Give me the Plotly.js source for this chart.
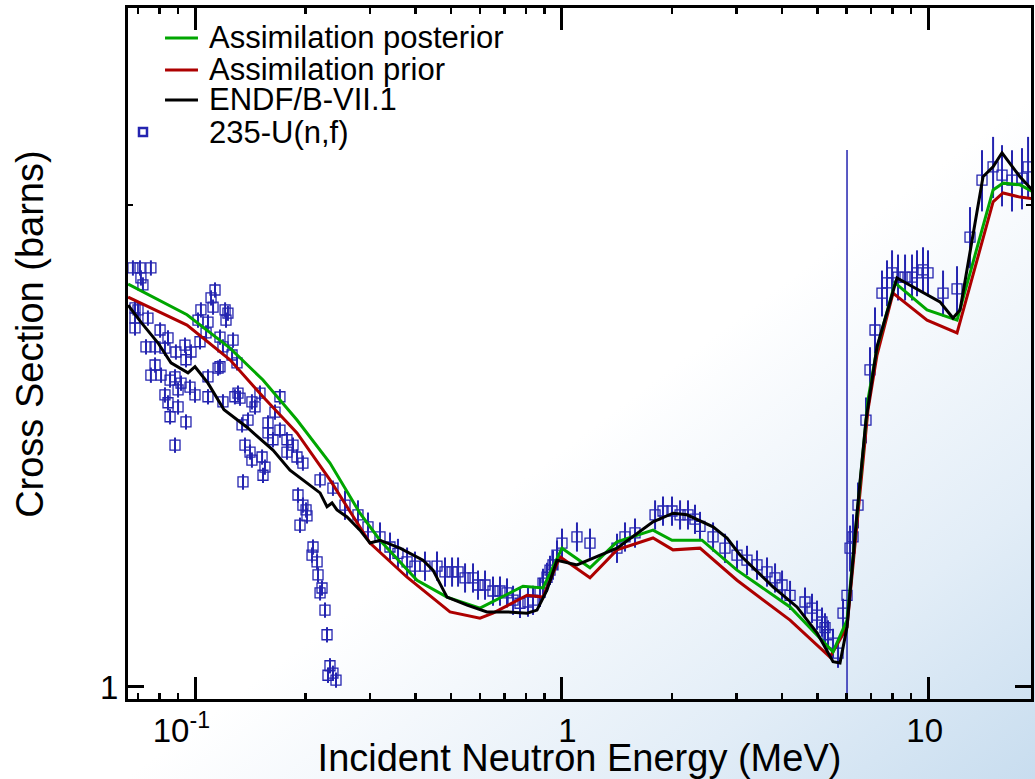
<!DOCTYPE html>
<html>
<head>
<meta charset="utf-8">
<script src="https://cdn.plot.ly/plotly-3.0.1.min.js"></script>
<style>
  html, body { margin: 0; padding: 0; }
  body {
    width: 1035px; height: 779px; overflow: hidden;
    background: linear-gradient(to bottom right, #ffffff 0%, #ffffff 56%, #f4f8fc 66%, #e2edf7 82%, #c8ddef 100%);
  }
  #chart { width: 1035px; height: 779px; }
</style>
</head>
<body>
<div id="chart"></div>
<script>
// ---------- Data (energies in MeV, cross sections in barns) ----------
// Assimilation posterior
const postE = [0.0657,0.0951,0.1246,0.1533,0.1898,0.2335,0.2819,0.3197,0.4034,0.4871,0.5992,0.7851,0.8903,1.003,1.196,1.417,1.777,2.002,2.417,3.012,4.203,5.506,6.012,6.243,6.523,6.860,7.258,8.128,9.94,12.0,15.05,16.02,17.82,19.59];
const postS = [1.785,1.708,1.628,1.555,1.468,1.380,1.284,1.235,1.166,1.138,1.120,1.156,1.153,1.221,1.187,1.232,1.253,1.235,1.235,1.183,1.122,1.052,1.101,1.209,1.347,1.512,1.628,1.788,1.720,1.695,2.044,2.064,2.059,2.035];

// Assimilation prior
const priorE = [0.0657,0.0951,0.1246,0.1533,0.1898,0.2335,0.3003,0.3790,0.4963,0.5992,0.6502,0.8051,0.8903,0.9906,1.196,1.417,1.777,2.015,2.387,3.012,4.203,5.403,6.012,6.243,6.523,6.860,7.258,8.027,9.94,12.0,15.05,16.02,17.82,19.59];
const priorS = [1.752,1.683,1.601,1.518,1.441,1.347,1.230,1.171,1.114,1.104,1.112,1.141,1.138,1.206,1.170,1.218,1.239,1.218,1.221,1.166,1.101,1.044,1.090,1.192,1.328,1.490,1.612,1.762,1.695,1.664,2.009,2.035,2.023,2.017];

// ENDF/B-VII.1
const endfE = [0.0657,0.0712,0.0793,0.0860,0.0957,0.100,0.1085,0.1200,0.1386,0.1632,0.1816,0.2021,0.2194,0.2292,0.2365,0.2440,0.2599,0.2819,0.3003,0.3197,0.3625,0.4189,0.4460,0.4871,0.5525,0.6261,0.7101,0.8051,0.8573,0.9130,0.9721,1.102,1.417,1.777,2.015,2.200,2.591,2.829,3.069,3.776,4.391,4.979,5.506,5.753,6.012,6.401,6.773,7.258,8.230,10.78,11.70,12.23,14.13,15.05,15.92,17.82,19.59];
const endfS = [1.732,1.690,1.640,1.594,1.571,1.585,1.548,1.490,1.453,1.406,1.366,1.341,1.322,1.296,1.303,1.290,1.277,1.253,1.230,1.235,1.221,1.200,1.183,1.138,1.125,1.114,1.114,1.112,1.117,1.150,1.200,1.192,1.221,1.268,1.284,1.281,1.259,1.239,1.209,1.155,1.122,1.081,1.037,1.035,1.090,1.284,1.468,1.631,1.801,1.740,1.700,1.720,2.083,2.113,2.156,2.083,2.035];

// 235-U(n,f) measurements, grouped by relative uncertainty
const expE_a = [0.0677,0.0708,0.0758,0.0712,0.0721,0.0686,0.0699,0.0686,0.0744,0.0686,0.0803,0.0844,0.0735,0.0778,0.0828,0.0887,0.0939,0.0975,0.0945,0.0778,0.0758,0.0808,0.0855,0.0882,0.0916,0.0969,0.0828,0.0899,0.100,0.0844,0.0899,0.0855,0.0945,0.0882,0.1085,0.1156,0.1085,0.1134,0.1106,0.1120,0.1038,0.1019,0.1085,0.1072,0.1208,0.1215,0.1192,0.1270,0.1285,0.1230,0.1032,0.1170,0.1192,0.1262,0.1302,0.1170,0.1310,0.1327,0.1430,0.1458,0.1504,0.1705,0.1653,0.1582,0.1395,0.1344,0.1582,0.1705,0.1632,0.1782,0.1369,0.1413,0.1430,0.1524,0.1782,0.1851,0.1898,0.1552,0.1533,0.1970,0.1352,0.1910,0.1970,0.2009,0.2021,0.1934,0.2099,0.2086,0.2153,0.2166,0.2221,0.2194,0.2263,0.2292,0.2335,0.2306,0.2379,0.2425,0.2194,0.2379];
const expS_a = [1.827,1.827,1.827,1.801,1.783,1.725,1.720,1.700,1.700,1.676,1.671,1.652,1.631,1.631,1.628,1.619,1.635,1.619,1.601,1.589,1.566,1.566,1.555,1.562,1.548,1.539,1.522,1.533,1.522,1.505,1.496,1.475,1.464,1.416,1.562,1.582,1.518,1.770,1.750,1.727,1.720,1.695,1.690,1.664,1.720,1.695,1.507,1.647,1.518,1.712,1.643,1.654,1.631,1.612,1.594,1.585,1.526,1.515,1.507,1.496,1.526,1.518,1.485,1.462,1.468,1.458,1.441,1.447,1.427,1.427,1.416,1.402,1.386,1.392,1.402,1.416,1.392,1.372,1.356,1.380,1.343,1.318,1.299,1.290,1.279,1.262,1.223,1.209,1.197,1.175,1.153,1.145,1.117,1.078,1.031,1.017,1.020,1.010,1.347,1.331];
const expE_b = [0.2566,0.2784,0.2965,0.3197,0.3404,0.3579,0.3790,0.3983,0.4241,0.4574,0.4810,0.5028,0.5221,0.5455,0.5736,0.5919,0.6185,0.6502,0.6795,0.7101,0.7375,0.7705,0.8101,0.8362,0.8738,0.8903,0.9130,0.9303,0.9480,0.9721,1.003,1.102,1.196,1.417,1.490,1.587,1.800,1.892,2.002,2.106,2.214,2.313,2.387,2.591,2.793,3.012,3.207,3.415,3.637,3.825,3.997,4.203,4.617,4.825,4.979,5.137,5.236,5.336,5.506,5.682,5.863];
const expS_b = [1.299,1.281,1.259,1.241,1.223,1.212,1.197,1.190,1.190,1.190,1.180,1.180,1.180,1.170,1.170,1.158,1.158,1.148,1.148,1.145,1.133,1.128,1.130,1.133,1.146,1.161,1.171,1.183,1.192,1.209,1.230,1.241,1.230,1.221,1.241,1.248,1.281,1.288,1.288,1.281,1.281,1.273,1.260,1.241,1.221,1.209,1.200,1.192,1.180,1.170,1.158,1.141,1.130,1.120,1.109,1.098,1.089,1.078,1.065,1.050,1.112];
const expE_c = [6.127,6.243,6.442,6.773,6.946,7.168,7.489,7.729,7.977,8.283,8.656,9.045,9.333,9.691,10.0,10.99,12.0];
const expS_c = [1.221,1.241,1.299,1.468,1.578,1.671,1.762,1.788,1.814,1.803,1.803,1.803,1.814,1.822,1.814,1.762,1.773];
const expE_d = [13.02,14.04,15.05,15.92,16.95,18.05,18.75];
const expS_d = [1.910,2.073,2.113,2.088,2.073,2.079,2.113];
// point with a very large uncertainty near 6 MeV
const expE_w = [6.012];
const expS_w = [1.141];
const expErrUp_w = [1.024];
const expErrDn_w = [0.20];

// Relative uncertainties (%) per group
const relErr = { a: 1.1, b: 2.1, c: 3.3, d: 4.4 };

// Axis ticks
const xTickVals = [0.1, 1, 10];
const xTickText = ['10<sup>-1</sup>', '1', '10'];
const xMinorVals = [0.07,0.08,0.09,0.2,0.3,0.4,0.5,0.6,0.7,0.8,0.9,2,3,4,5,6,7,8,9];
const yTickVals = [1];
const yTickText = ['1'];
const yMinorVals = [2];

// Texts
const legendLabels = ['Assimilation posterior', 'Assimilation prior', 'ENDF/B-VII.1', '235-U(n,f)'];
const xTitle = 'Incident Neutron Energy (MeV)';
const yTitle = 'Cross Section (barns)';

// ---------- Styles ----------
const BLUE = '#2424b0';
const GREEN = '#00a600';
const RED = '#ad0000';
const BLACK = '#000000';
const FONT = 'Liberation Sans, Arial, Helvetica, sans-serif';

function dataTrace(x, y, pct) {
  return {
    x: x, y: y, type: 'scatter', mode: 'markers', showlegend: false,
    marker: { symbol: 'square-open', size: 10, color: BLUE, line: { width: 1.3, color: BLUE } },
    error_y: { type: 'percent', value: pct, color: BLUE, thickness: 2, width: 0 }
  };
}

const traces = [
  dataTrace(expE_a, expS_a, relErr.a),
  dataTrace(expE_b, expS_b, relErr.b),
  dataTrace(expE_c, expS_c, relErr.c),
  dataTrace(expE_d, expS_d, relErr.d),
  {
    x: expE_w, y: expS_w, type: 'scatter', mode: 'markers', showlegend: false,
    marker: { symbol: 'square-open', size: 10, color: BLUE, line: { width: 1.3, color: BLUE } },
    error_y: { type: 'data', symmetric: false, array: expErrUp_w, arrayminus: expErrDn_w, color: BLUE, thickness: 1.5, width: 0 }
  },
  { x: priorE, y: priorS, type: 'scatter', mode: 'lines', name: legendLabels[1], showlegend: false,
    line: { color: RED, width: 3 } },
  { x: postE, y: postS, type: 'scatter', mode: 'lines', name: legendLabels[0], showlegend: false,
    line: { color: GREEN, width: 3 } },
  { x: endfE, y: endfS, type: 'scatter', mode: 'lines', name: legendLabels[2], showlegend: false,
    line: { color: BLACK, width: 3 } }
];

// ---------- Legend (drawn inside the plot, top-left) ----------
const legRowsY = [0.9566, 0.9103, 0.8669, 0.8205];
const legColors = [GREEN, RED, BLACK];
const shapes = [];
const annotations = [];
for (let i = 0; i < 3; i++) {
  shapes.push({ type: 'line', xref: 'paper', yref: 'paper', x0: 0.041, x1: 0.0775,
    y0: legRowsY[i], y1: legRowsY[i], line: { color: legColors[i], width: 3 } });
}
shapes.push({ type: 'rect', xref: 'paper', yref: 'paper', xsizemode: 'pixel', ysizemode: 'pixel',
  xanchor: 0.0166, yanchor: legRowsY[3], x0: -4, x1: 4, y0: -4, y1: 4,
  line: { color: BLUE, width: 2.5 }, fillcolor: 'rgba(0,0,0,0)' });
for (let i = 0; i < 4; i++) {
  annotations.push({ xref: 'paper', yref: 'paper', x: 0.0875, y: legRowsY[i],
    xanchor: 'left', yanchor: 'middle', showarrow: false, text: legendLabels[i],
    font: { family: FONT, size: 31, color: '#000' } });
}
// y-axis title (placed to match the reference's vertical offset)
annotations.push({ xref: 'paper', yref: 'paper', x: -0.1085, y: 0.527,
  xanchor: 'center', yanchor: 'middle', textangle: -90, showarrow: false, text: yTitle,
  font: { family: FONT, size: 38, color: '#000' } });

const layout = {
  width: 1035, height: 779,
  margin: { l: 128, r: 4, t: 8, b: 80 },
  paper_bgcolor: 'rgba(0,0,0,0)',
  plot_bgcolor: 'rgba(0,0,0,0)',
  font: { family: FONT, color: '#000' },
  showlegend: false,
  xaxis: {
    type: 'log', range: [-1.1828, 1.281],
    showline: true, linewidth: 3, linecolor: '#000', mirror: 'allticks',
    ticks: 'inside', ticklen: 22, tickwidth: 3, tickcolor: '#000',
    tickmode: 'array', tickvals: xTickVals, ticktext: xTickText,
    ticklabelposition: 'outside left', ticklabelshift: 18,
    tickfont: { size: 33, family: FONT },
    minor: { tickmode: 'array', tickvals: xMinorVals, ticks: 'inside', ticklen: 6, tickwidth: 2.5, tickcolor: '#000', showgrid: false },
    showgrid: false, zeroline: false,
    title: { text: xTitle, font: { size: 38, family: FONT }, standoff: 2 }
  },
  yaxis: {
    type: 'log', range: [-0.0075, 0.4241],
    showline: true, linewidth: 3, linecolor: '#000', mirror: 'allticks',
    ticks: 'inside', ticklen: 16, tickwidth: 3, tickcolor: '#000',
    tickmode: 'array', tickvals: yTickVals, ticktext: yTickText,
    tickfont: { size: 33, family: FONT },
    minor: { tickmode: 'array', tickvals: yMinorVals, ticks: 'inside', ticklen: 5, tickwidth: 2.5, tickcolor: '#000', showgrid: false },
    showgrid: false, zeroline: false
  },
  shapes: shapes,
  annotations: annotations
};

Plotly.newPlot('chart', traces, layout, { staticPlot: true, displayModeBar: false });
</script>
</body>
</html>
